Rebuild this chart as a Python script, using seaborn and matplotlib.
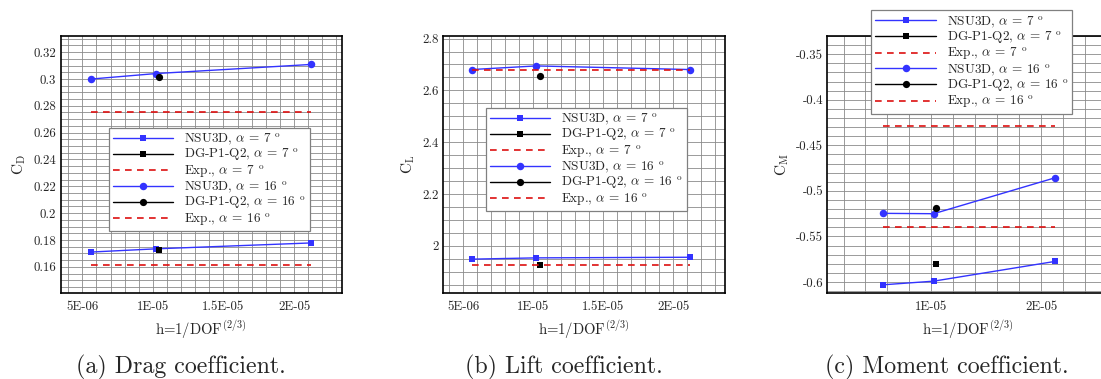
import numpy as np
import pandas as pd
import matplotlib
matplotlib.use('Agg')
import matplotlib.pyplot as plt
from matplotlib.ticker import MultipleLocator, FixedLocator
import seaborn as sns

# grid spacing h = 1/DOF^(2/3)
h_nsu = [5.6e-6, 1.02e-5, 2.12e-5]
h_dg = [1.045e-5]

# drag
cd_nsu_7 = [0.1710, 0.1734, 0.1778]
cd_dg_7 = [0.1727]
cd_exp_7 = 0.1615
cd_nsu_16 = [0.2999, 0.3040, 0.3108]
cd_dg_16 = [0.3018]
cd_exp_16 = 0.2755

# lift
cl_nsu_7 = [1.9486, 1.9536, 1.9560]
cl_dg_7 = [1.9250]
cl_exp_7 = 1.9275
cl_nsu_16 = [2.6805, 2.6945, 2.6805]
cl_dg_16 = [2.6545]
cl_exp_16 = 2.6790

# moment
cm_nsu_7 = [-0.6030, -0.5990, -0.5774]
cm_dg_7 = [-0.5800]
cm_exp_7 = -0.4285
cm_nsu_16 = [-0.5246, -0.5250, -0.4857]
cm_dg_16 = [-0.5183]
cm_exp_16 = -0.5392

xticks_ab = [5e-6, 1e-5, 1.5e-5, 2e-5]
xticklabels_ab = ['5E-06', '1E-05', '1.5E-05', '2E-05']
xticks_c = [1e-5, 2e-5]
xticklabels_c = ['1E-05', '2E-05']

cd_ticks = [0.16, 0.18, 0.20, 0.22, 0.24, 0.26, 0.28, 0.30, 0.32]
cd_ticklabels = ['0.16', '0.18', '0.2', '0.22', '0.24', '0.26', '0.28', '0.3', '0.32']
cl_ticks = [2.0, 2.2, 2.4, 2.6, 2.8]
cl_ticklabels = ['2', '2.2', '2.4', '2.6', '2.8']
cm_ticks = [-0.60, -0.55, -0.50, -0.45, -0.40, -0.35]
cm_ticklabels = ['-0.6', '-0.55', '-0.5', '-0.45', '-0.4', '-0.35']

sns.set_style('white')
plt.rcParams['font.family'] = ['cmr10']
plt.rcParams['mathtext.fontset'] = 'cm'
plt.rcParams['axes.unicode_minus'] = False
plt.rcParams['axes.formatter.use_mathtext'] = True

blue = '#3333ff'
red = '#dd1111'

fig = plt.figure(figsize=(11.01, 3.79), dpi=100)
W, H = 1101, 379


def px_axes(left, right, top, bottom):
    return fig.add_axes([left / W, 1 - bottom / H, (right - left) / W, (bottom - top) / H])


def draw_panel(ax, nsu7, dg7, exp7, nsu16, dg16, exp16):
    sns.lineplot(x=h_nsu, y=nsu7, ax=ax, color=blue, marker='s', markersize=4.4,
                 markeredgewidth=0, lw=1.0, label=r'NSU3D, $\alpha$ = 7 $^{\rm o}$')
    sns.lineplot(x=h_dg, y=dg7, ax=ax, color='black', marker='s', markersize=3.8,
                 markeredgewidth=0, lw=1.0, label=r'DG-P1-Q2, $\alpha$ = 7 $^{\rm o}$')
    sns.lineplot(x=[h_nsu[0], h_nsu[-1]], y=[exp7, exp7], ax=ax, color=red,
                 linestyle=(0, (4, 3.2)), lw=1.2, label=r'Exp., $\alpha$ = 7 $^{\rm o}$')
    sns.lineplot(x=h_nsu, y=nsu16, ax=ax, color=blue, marker='o', markersize=5.4,
                 markeredgewidth=0, lw=1.0, label=r'NSU3D, $\alpha$ = 16 $^{\rm o}$')
    sns.lineplot(x=h_dg, y=dg16, ax=ax, color='black', marker='o', markersize=5.2,
                 markeredgewidth=0, lw=1.0, label=r'DG-P1-Q2, $\alpha$ = 16 $^{\rm o}$')
    sns.lineplot(x=[h_nsu[0], h_nsu[-1]], y=[exp16, exp16], ax=ax, color=red,
                 linestyle=(0, (4, 3.2)), lw=1.2, label=r'Exp., $\alpha$ = 16 $^{\rm o}$')


def style_axes(ax, xlim, ylim, xt, xtl, xminor, yt, ytl, yminor, ylabel):
    ax.set_xlim(*xlim)
    ax.set_ylim(*ylim)
    ax.xaxis.set_major_locator(FixedLocator(xt))
    ax.set_xticklabels(xtl)
    ax.yaxis.set_major_locator(FixedLocator(yt))
    ax.set_yticklabels(ytl)
    ax.xaxis.set_minor_locator(MultipleLocator(xminor))
    ax.yaxis.set_minor_locator(MultipleLocator(yminor))
    ax.grid(True, which='both', color='#8a8a8a', lw=0.6)
    ax.set_axisbelow(True)
    ax.tick_params(which='both', direction='in', width=1.0, labelsize=9.3, color='black')
    ax.tick_params(which='major', length=4.5)
    ax.tick_params(which='minor', length=2.2)
    ax.tick_params(axis='x', pad=6)
    ax.tick_params(axis='y', pad=3)
    for s in ax.spines.values():
        s.set_linewidth(1.2)
        s.set_color('black')
    ax.set_xlabel(r'h=1/DOF$^{(2/3)}$', fontsize=10.6, labelpad=4)
    ax.set_ylabel(ylabel, fontsize=11, labelpad=4)


def put_legend(ax, left_px, top_px):
    leg = ax.legend(loc='upper left', bbox_to_anchor=(left_px / W, 1 - top_px / H),
                    bbox_transform=fig.transFigure, fontsize=9.5, frameon=True,
                    fancybox=False, framealpha=1, edgecolor='#808080',
                    handlelength=4.6, handletextpad=0.8, labelspacing=0.0,
                    borderpad=0.3, borderaxespad=0)
    leg.get_frame().set_linewidth(0.9)


# (a) drag
ax1 = px_axes(60.5, 342, 36, 293)
draw_panel(ax1, cd_nsu_7, cd_dg_7, cd_exp_7, cd_nsu_16, cd_dg_16, cd_exp_16)
style_axes(ax1, (3.455e-6, 2.34e-5), (0.1405, 0.332), xticks_ab, xticklabels_ab, 1e-6,
           cd_ticks, cd_ticklabels, 0.005, r'C$_{\rm D}$')
put_legend(ax1, 108.7, 127.7)

# (b) lift
ax2 = px_axes(443.3, 725.3, 36, 293)
draw_panel(ax2, cl_nsu_7, cl_dg_7, cl_exp_7, cl_nsu_16, cl_dg_16, cl_exp_16)
style_axes(ax2, (3.571e-6, 2.371e-5), (1.818, 2.810), xticks_ab, xticklabels_ab, 1e-6,
           cl_ticks, cl_ticklabels, 0.05, r'C$_{\rm L}$')
put_legend(ax2, 485.7, 107.7)

# (c) moment
ax3 = px_axes(827.3, 1109, 36, 293)
draw_panel(ax3, cm_nsu_7, cm_dg_7, cm_exp_7, cm_nsu_16, cm_dg_16, cm_exp_16)
style_axes(ax3, (0.527e-6, 2.614e-5), (-0.612, -0.330), xticks_c, xticklabels_c, 2e-6,
           cm_ticks, cm_ticklabels, 0.01, r'C$_{\rm M}$')
put_legend(ax3, 871.3, 10.3)

# captions
fig.text(181 / W, 0.03, '(a) Drag coefficient.', ha='center', va='center', fontsize=17.2)
fig.text(564 / W, 0.03, '(b) Lift coefficient.', ha='center', va='center', fontsize=17.2)
fig.text(946.5 / W, 0.03, '(c) Moment coefficient.', ha='center', va='center', fontsize=17.2)

fig.savefig('out.png', dpi=100)
